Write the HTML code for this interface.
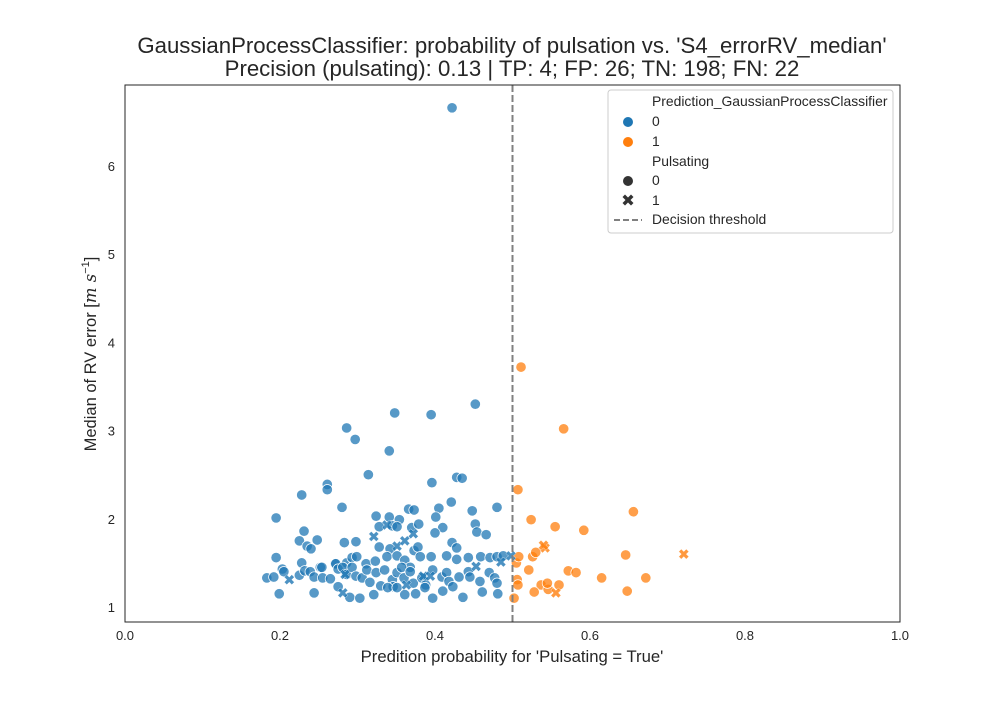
<!DOCTYPE html>
<html><head><meta charset="utf-8"><style>
body{margin:0;background:#fff;font-family:"Liberation Sans","DejaVu Sans",sans-serif}
svg text{font-family:"Liberation Sans","DejaVu Sans",sans-serif;fill:#262626}
</style></head><body>
<svg id="chart" width="1000" height="700" xmlns="http://www.w3.org/2000/svg">
<rect width="1000" height="700" fill="#fff"/>
<text x="512" y="53" font-size="22.2" text-anchor="middle">GaussianProcessClassifier: probability of pulsation vs. 'S4_errorRV_median'</text>
<text x="512" y="76" font-size="22.2" text-anchor="middle">Precision (pulsating): 0.13 | TP: 4; FP: 26; TN: 198; FN: 22</text>
<g id="marks"></g>
<rect x="125" y="85" width="775" height="537" fill="none" stroke="#262626" stroke-width="1"/>
<g id="axes"></g>
<text x="512" y="662" font-size="16.7" text-anchor="middle">Predition probability for 'Pulsating = True'</text>
<text transform="translate(96,354) rotate(-90)" font-size="16.5" text-anchor="middle">Median of RV error [<tspan font-style="italic" font-family="DejaVu Serif,serif">m s</tspan><tspan font-size="11" dy="-7">−1</tspan><tspan dy="7">]</tspan></text>
<g>
<rect x="608" y="90" width="285" height="143" rx="3" fill="#fff" fill-opacity="0.85" stroke="#ccc"/>
<text x="652" y="106" font-size="13.9">Prediction_GaussianProcessClassifier</text>
<circle cx="628" cy="122" r="5" fill="#1f77b4"/><text x="652" y="126" font-size="13.9">0</text>
<circle cx="628" cy="142" r="5" fill="#ff7f0e"/><text x="652" y="146" font-size="13.9">1</text>
<text x="652" y="166" font-size="13.9">Pulsating</text>
<circle cx="628" cy="181" r="5" fill="#333"/><text x="652" y="185" font-size="13.9">0</text>
<path d="M622.5,197 L625,194.5 L628,197.5 L631,194.5 L633.5,197 L630.5,200 L633.5,203 L631,205.5 L628,202.5 L625,205.5 L622.5,203 L625.5,200Z" fill="#333"/><text x="652" y="205" font-size="13.9">1</text>
<line x1="614" y1="220" x2="642" y2="220" stroke="#808080" stroke-width="2" stroke-dasharray="6,3"/><text x="652" y="224" font-size="13.9">Decision threshold</text>
</g>
</svg>
<script>
const xTicks=[0.0,0.2,0.4,0.6,0.8,1.0];
const yTicks=[1,2,3,4,5,6];
const threshold=0.5;
const blueCircleX=[.314,.261,.261,.228,.396,.428,.435,.280,.195,.324,.341,.354,.366,.373,.405,.421,.448,.480,.328,.345,.351,.370,.379,.401,.410,.452,.454,.466,.400,.231,.225,.235,.240,.248,.283,.298,.328,.342,.373,.378,.422,.428,.195,.228,.252,.271,.286,.293,.299,.311,.323,.338,.351,.361,.368,.381,.395,.415,.428,.443,.459,.471,.480,.488,.183,.192,.203,.205,.225,.232,.239,.244,.254,.255,.265,.272,.275,.281,.286,.293,.298,.306,.312,.316,.324,.330,.335,.345,.346,.351,.357,.360,.368,.372,.383,.388,.397,.409,.415,.418,.431,.443,.445,.458,.470,.477,.480,.199,.244,.275,.290,.303,.321,.339,.351,.361,.375,.387,.397,.410,.423,.436,.461,.481,.452,.348,.395,.286,.297,.341,.422];
const blueCircleY=[2.50,2.39,2.33,2.27,2.41,2.47,2.46,2.13,2.01,2.03,2.02,1.99,2.11,2.10,2.12,2.19,2.09,2.13,1.91,1.92,1.91,1.90,1.94,2.02,1.90,1.94,1.85,1.82,1.84,1.86,1.75,1.69,1.66,1.76,1.73,1.74,1.68,1.66,1.64,1.68,1.73,1.67,1.56,1.50,1.45,1.49,1.50,1.56,1.57,1.49,1.52,1.57,1.58,1.53,1.45,1.57,1.57,1.58,1.54,1.56,1.57,1.56,1.57,1.58,1.33,1.34,1.43,1.40,1.36,1.41,1.40,1.34,1.45,1.33,1.32,1.49,1.43,1.45,1.37,1.45,1.35,1.33,1.42,1.28,1.39,1.24,1.42,1.31,1.23,1.39,1.45,1.33,1.40,1.27,1.33,1.25,1.42,1.34,1.39,1.29,1.34,1.40,1.34,1.29,1.39,1.33,1.27,1.15,1.16,1.23,1.11,1.10,1.14,1.22,1.22,1.14,1.15,1.22,1.10,1.18,1.23,1.11,1.17,1.15,3.30,3.20,3.18,3.03,2.90,2.77,6.66];
const blueCrossX=[.321,.338,.351,.361,.372,.284,.281,.212,.363,.385,.394,.453,.485,.498];
const blueCrossY=[1.80,1.93,1.69,1.75,1.83,1.37,1.16,1.31,1.25,1.35,1.35,1.46,1.51,1.58];
const orangeCircleX=[.511,.566,.507,.656,.524,.555,.592,.505,.526,.646,.508,.521,.572,.582,.506,.537,.560,.615,.672,.528,.546,.648,.502,.507,.530,.545];
const orangeCircleY=[3.72,3.02,2.33,2.08,1.99,1.91,1.87,1.50,1.57,1.59,1.57,1.42,1.41,1.39,1.31,1.25,1.25,1.33,1.33,1.17,1.20,1.18,1.10,1.25,1.62,1.27];
const orangeCrossX=[.721,.542,.556,.540];
const orangeCrossY=[1.60,1.67,1.16,1.70];

const NS="http://www.w3.org/2000/svg";
const X=v=>125+v*775;
const Y=v=>607-(v-1)*88.2;
const marks=document.getElementById('marks');
const axes=document.getElementById('axes');
function mk(t,a){const e=document.createElementNS(NS,t);for(const k in a)e.setAttribute(k,a[k]);return e;}
function circle(x,y,c,name){
  const e=mk('circle',{cx:X(x),cy:Y(y),r:5.2,fill:c,'fill-opacity':0.75,stroke:'#fff','stroke-width':0.7});
  
  
  marks.appendChild(e);
}
function cross(x,y,c,name){
  const cx=X(x),cy=Y(y);
  const p=[[-5,-2.5],[-2.5,-5],[0,-2.5],[2.5,-5],[5,-2.5],[2.5,0],[5,2.5],[2.5,5],[0,2.5],[-2.5,5],[-5,2.5],[-2.5,0]];
  const e=mk('polygon',{points:p.map(q=>(cx+q[0])+','+(cy+q[1])).join(' '),fill:c,'fill-opacity':0.8,stroke:'#fff','stroke-width':0.4});
  
  
  marks.appendChild(e);
}
blueCircleX.forEach((v,i)=>circle(v,blueCircleY[i],'#1f77b4','point-pred0-nonpulsating'));
orangeCircleX.forEach((v,i)=>circle(v,orangeCircleY[i],'#ff7f0e','point-pred1-nonpulsating'));
blueCrossX.forEach((v,i)=>cross(v,blueCrossY[i],'#1f77b4','point-pred0-pulsating'));
orangeCrossX.forEach((v,i)=>cross(v,orangeCrossY[i],'#ff7f0e','point-pred1-pulsating'));
const th=mk('line',{x1:X(threshold),x2:X(threshold),y1:85,y2:622,stroke:'#808080','stroke-width':2,'stroke-dasharray':'7,3'});


marks.appendChild(th);
xTicks.forEach(v=>{
  const t=mk('text',{x:X(v),y:640,'font-size':13,'text-anchor':'middle'});
  t.textContent=v.toFixed(1);
  
  
  axes.appendChild(t);
});
yTicks.forEach(v=>{
  const t=mk('text',{x:115,y:Y(v)+5,'font-size':13,'text-anchor':'end'});
  t.textContent=v;
  
  
  axes.appendChild(t);
});
</script>
</body></html>
